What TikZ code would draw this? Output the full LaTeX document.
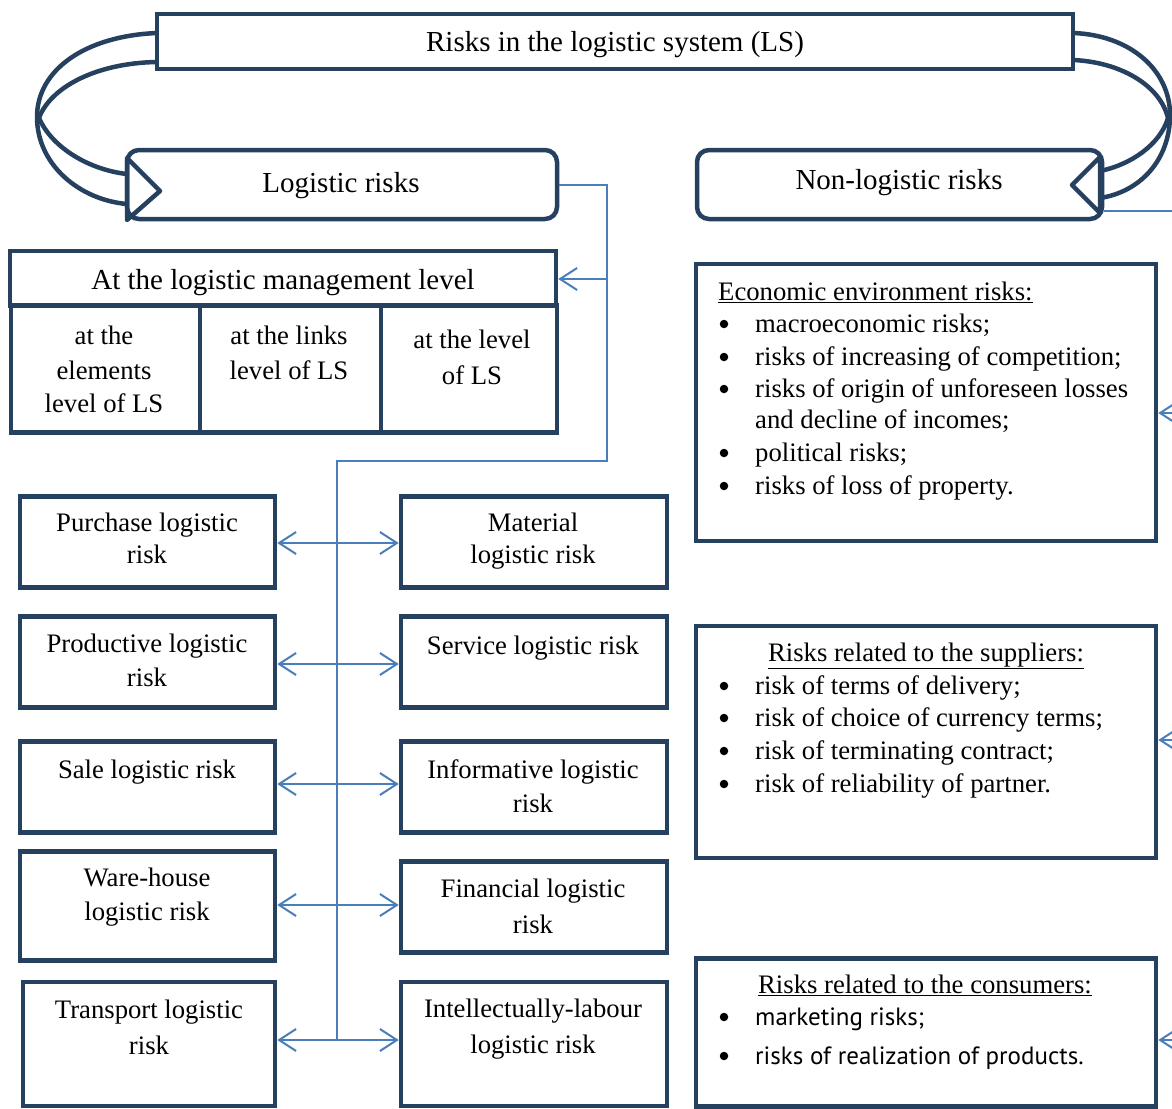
\documentclass[tikz,border=0pt]{standalone}
\usepackage{fontspec}
\setmainfont{Liberation Serif}
\newfontfamily\sansf{PT Sans}
\usetikzlibrary{arrows.meta}
\definecolor{navy}{RGB}{38,64,96}
\definecolor{lblue}{RGB}{74,126,187}
\newcommand\mytl[4]{\node[body,anchor=base] (#1) at (#2,#3) {#4};}
\newcommand\mybul[3]{\node[dot,yshift=8pt] (#1b) at (724,#2) {};
  \node[body,anchor=base west] (#1) at (755,#2) {#3};}
\begin{document}
\begin{tikzpicture}[x=1pt,y=-1pt,
  box/.style={draw=navy,line width=4.5pt,rectangle,inner sep=0pt},
  rbox/.style={box,rounded corners=12pt},
  body/.style={inner sep=0pt,font=\fontsize{26.7}{33}\selectfont},
  head/.style={inner sep=0pt,font=\fontsize{29}{34}\selectfont},
  dot/.style={circle,fill=black,inner sep=0pt,minimum size=8.5pt},
  conn/.style={draw=lblue,line width=2pt},
  bigarrow/.style={draw=navy,line width=4.5pt,line join=round},
  >={Straight Barb[length=17pt,width=22pt]}]
\useasboundingbox (0,0) rectangle (1172,1108);

% top level
\node[box,minimum width=916pt,minimum height=55pt] (top) at (615,41.5) {};
\node[head,anchor=base] (toptext) at (615,52) {Risks in the logistic system (LS)};
\node[rbox,minimum width=430pt,minimum height=69pt] (logistic) at (342,184.5) {};
\node[head,anchor=base] (logtext) at (341,192) {Logistic risks};
\node[rbox,minimum width=405pt,minimum height=69pt] (nonlog) at (899.5,184.5) {};
\node[head,anchor=base] (nonlogtext) at (899,189) {Non-logistic risks};

% curved arrows
\draw[bigarrow] (157,33) .. controls (85,36) and (37,70) .. (37,117) .. controls (37,165) and (80,200) .. (127,204);
\draw[bigarrow] (157,62) .. controls (95,63) and (50,88) .. (39,118);
\draw[bigarrow] (39,118) .. controls (52,148) and (90,170) .. (127,174);
\draw[bigarrow] (127,158) -- (160,191) -- (127,220) -- cycle;

\draw[bigarrow] (1073,33) .. controls (1130,35) and (1170,70) .. (1170,115) .. controls (1170,160) and (1140,192) .. (1100,198);
\draw[bigarrow] (1073,60) .. controls (1120,62) and (1160,85) .. (1168,118);
\draw[bigarrow] (1168,118) .. controls (1160,145) and (1130,165) .. (1100,171);
\draw[bigarrow] (1100,157) -- (1072,185) -- (1100,213) -- cycle;

% management level table
\node[box,minimum width=546pt,minimum height=55pt] (mgmt) at (283,278.5) {};
\node[head,anchor=base] (mgmttext) at (283,289) {At the logistic management level};
\node[box,minimum width=189pt,minimum height=127pt] (cellA) at (105.5,369) {};
\node[box,minimum width=181pt,minimum height=127pt] (cellB) at (290.5,369) {};
\node[box,minimum width=176pt,minimum height=127pt] (cellC) at (469,369) {};
\mytl{a1}{104}{344}{at the}
\mytl{a2}{104}{379}{elements}
\mytl{a3}{104}{412}{level of LS}
\mytl{b1}{289}{344}{at the links}
\mytl{b2}{289}{379}{level of LS}
\mytl{c1}{472}{348}{at the level}
\mytl{c2}{472}{384}{of LS}

% left column boxes
\node[box,minimum width=255pt,minimum height=91pt] (purchase) at (147.5,542) {};
\node[box,minimum width=255pt,minimum height=91pt] (productive) at (147.5,662) {};
\node[box,minimum width=255pt,minimum height=91pt] (sale) at (147.5,787) {};
\node[box,minimum width=255pt,minimum height=109pt] (ware) at (147.5,906) {};
\node[box,minimum width=252pt,minimum height=124pt] (transport) at (149,1044) {};
% right column boxes
\node[box,minimum width=266pt,minimum height=91pt] (material) at (534,542) {};
\node[box,minimum width=266pt,minimum height=91pt] (service) at (534,662) {};
\node[box,minimum width=266pt,minimum height=91pt] (informative) at (534,787) {};
\node[box,minimum width=266pt,minimum height=91pt] (financial) at (534,907) {};
\node[box,minimum width=266pt,minimum height=124pt] (intellect) at (534,1044) {};

\mytl{p1}{147}{531}{Purchase logistic}
\mytl{p2}{147}{563}{risk}
\mytl{m1}{533}{531}{Material}
\mytl{m2}{533}{563}{logistic risk}
\mytl{q1}{147}{652}{Productive logistic}
\mytl{q2}{147}{686}{risk}
\mytl{s1}{533}{654}{Service logistic risk}
\mytl{sa1}{147}{778}{Sale logistic risk}
\mytl{i1}{533}{778}{Informative logistic}
\mytl{i2}{533}{812}{risk}
\mytl{w1}{147}{886}{Ware-house}
\mytl{w2}{147}{920}{logistic risk}
\mytl{f1}{533}{897}{Financial logistic}
\mytl{f2}{533}{933}{risk}
\mytl{t1}{149}{1018}{Transport logistic}
\mytl{t2}{149}{1054}{risk}
\mytl{l1}{533}{1017}{Intellectually-labour}
\mytl{l2}{533}{1053}{logistic risk}

% right-side boxes
\node[box,minimum width=460pt,minimum height=277pt] (econ) at (926,402.5) {};
\node[box,minimum width=460pt,minimum height=232pt] (suppl) at (926,742) {};
\node[box,minimum width=460pt,minimum height=148pt] (cons) at (926,1032.5) {};

\node[body,anchor=base west] (etitle) at (718,300) {\underline{Economic environment risks:}};
\mybul{e1}{332}{macroeconomic risks;}
\mybul{e2}{365}{risks of increasing of competition;}
\mybul{e3}{397}{risks of origin of unforeseen losses}
\node[body,anchor=base west] (e3x) at (755,428) {and decline of incomes;};
\mybul{e4}{461}{political risks;}
\mybul{e5}{494}{risks of loss of property.}

\node[body,anchor=base] (stitle) at (926,661) {\underline{Risks related to the suppliers:}};
\mybul{u1}{694}{risk of terms of delivery;}
\mybul{u2}{726}{risk of choice of currency terms;}
\mybul{u3}{759}{risk of terminating contract;}
\mybul{u4}{792}{risk of reliability of partner.}

\node[body,anchor=base] (ctitle) at (925,993) {\underline{Risks related to the consumers:}};
\mybul{k1}{1025}{\sansf\fontsize{25}{30}\selectfont marketing risks;}
\mybul{k2}{1064}{\sansf\fontsize{25}{30}\selectfont risks of realization of products.}

% connectors (left part)
\coordinate (jM) at (607,279);
\coordinate (jR) at (607,461);
\coordinate (jL) at (337,461);
\coordinate (v1) at (337,543);
\coordinate (v2) at (337,664);
\coordinate (v3) at (337,784);
\coordinate (v4) at (337,905);
\coordinate (v5) at (337,1040);
\draw[conn] (logistic.east) -| (jR) -- (jL) -- (v5);
\draw[conn,->] (jM) -- (mgmt.east |- jM);
\draw[conn,<->] (purchase.east |- v1) -- (material.west |- v1);
\draw[conn,<->] (productive.east |- v2) -- (service.west |- v2);
\draw[conn,<->] (sale.east |- v3) -- (informative.west |- v3);
\draw[conn,<->] (ware.east |- v4) -- (financial.west |- v4);
\draw[conn,<->] (transport.east |- v5) -- (intellect.west |- v5);

% connectors (right part)
\coordinate (r0) at (1190,211);
\coordinate (r1) at (1190,413);
\coordinate (r2) at (1190,740);
\coordinate (r3) at (1190,1040);
\draw[conn] (nonlog.east |- r0) -- (r0);
\draw[conn,->] (r1) -- (econ.east |- r1);
\draw[conn,->] (r2) -- (suppl.east |- r2);
\draw[conn,->] (r3) -- (cons.east |- r3);
\end{tikzpicture}
\end{document}
